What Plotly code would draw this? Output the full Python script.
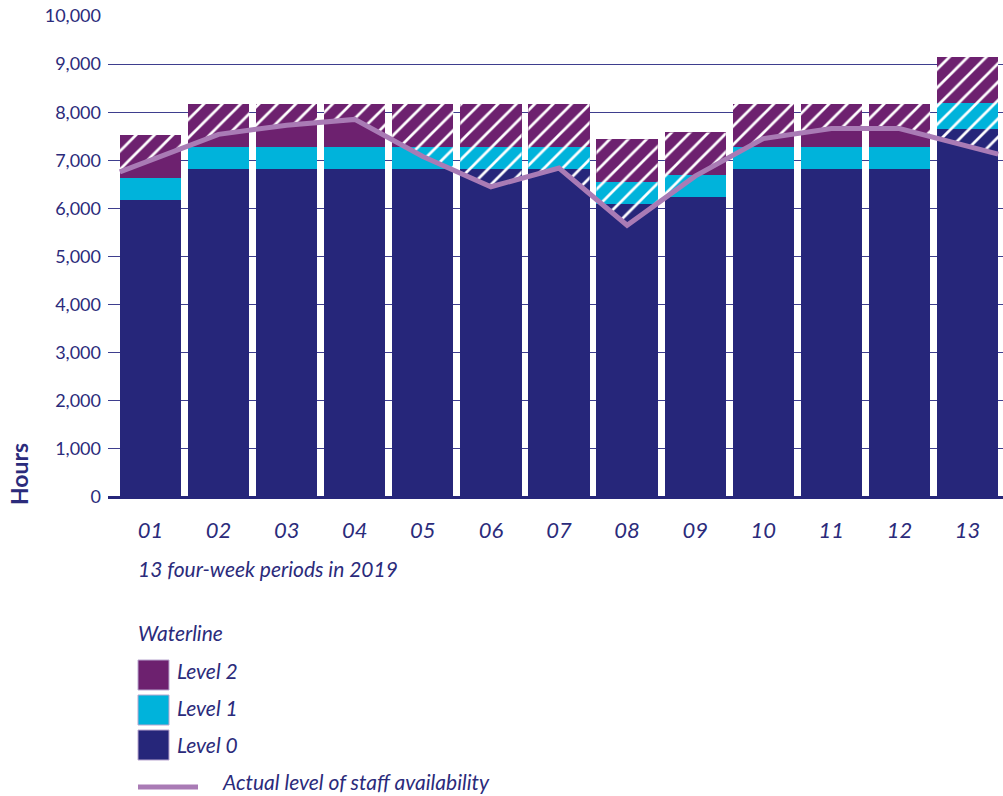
import numpy as np
import plotly.graph_objects as go

# Four-week periods of 2019
periods = ["01", "02", "03", "04", "05", "06", "07", "08", "09", "10", "11", "12", "13"]

# Waterline levels (hours, stacked)
level0 = [6175, 6820, 6820, 6820, 6820, 6820, 6820, 6090, 6240, 6820, 6820, 6820, 7650]
level1 = [465, 460, 460, 460, 460, 460, 460, 460, 455, 460, 460, 460, 535]
level2 = [885, 890, 890, 890, 890, 890, 890, 890, 885, 890, 890, 890, 970]

# Actual level of staff availability (hours)
availability = [6760, 7540, 7730, 7850, 7080, 6450, 6840, 5650, 6670, 7450, 7660, 7660, 7130]

y_ticks = [0, 1000, 2000, 3000, 4000, 5000, 6000, 7000, 8000, 9000, 10000]

NAVY = "#26267A"
CYAN = "#00B3DB"
PURPLE = "#6D216F"
LINE = "#A97BB5"
TEXT = "#2B2B7B"
GRID = "#3E3E8E"
FONT = "Lato"

W, H = 1003, 796
ML, MR, MT, MB = 108, 0, 16, 299
BAR_W = 0.9
X_RANGE = [-0.624, 12.521]

x = list(range(len(periods)))
# the availability line runs from the outer edge of the first bar to the outer edge of the last
line_x = [x[0] - BAR_W / 2] + x[1:-1] + [x[-1] + BAR_W / 2]


def line_at(xv):
    return float(np.interp(xv, line_x, availability))


def px_x(p):
    return (p - ML) / (W - ML - MR)


def px_y(p):
    return (H - MB - p) / (H - MT - MB)


fig = go.Figure()

for name, vals, col in [("Level 0", level0, NAVY), ("Level 1", level1, CYAN), ("Level 2", level2, PURPLE)]:
    fig.add_trace(go.Bar(
        x=x, y=vals, name=name, width=BAR_W,
        marker=dict(color=col, line=dict(width=0)),
        hoverinfo="skip", showlegend=False,
    ))

# hatched overlay: the part of each bar that lies above the availability line
hx, hy = [], []
for i in x:
    top = level0[i] + level1[i] + level2[i]
    xl, xr = i - BAR_W / 2, i + BAR_W / 2
    pts = [xl] + [lx for lx in line_x if xl < lx < xr] + [xr]
    lower = [min(line_at(p), top) for p in pts]
    hx += pts + pts[::-1] + [pts[0], None]
    hy += lower + [top] * len(pts) + [lower[0], None]

fig.add_trace(go.Scatter(
    x=hx, y=hy, mode="lines", fill="toself",
    fillcolor="rgba(0,0,0,0)",
    fillpattern=dict(shape="/", fgcolor="white", bgcolor="rgba(0,0,0,0)",
                     size=13, solidity=0.21, fillmode="replace"),
    line=dict(width=0, color="rgba(0,0,0,0)"),
    hoverinfo="skip", showlegend=False,
))

fig.add_trace(go.Scatter(
    x=line_x, y=availability, mode="lines",
    line=dict(color=LINE, width=5),
    hoverinfo="skip", showlegend=False,
))

fig.update_layout(
    width=W, height=H,
    margin=dict(l=ML, r=MR, t=MT, b=MB),
    barmode="stack", bargap=0,
    plot_bgcolor="white", paper_bgcolor="white",
    font=dict(family=FONT, color=TEXT),
    showlegend=False,
)

fig.update_xaxes(
    range=X_RANGE, tickmode="array", tickvals=x,
    ticktext=[f"<i>{p}</i>" for p in periods],
    tickfont=dict(family=FONT, size=22, color=TEXT),
    showgrid=False, zeroline=False, showline=False, ticks="",
    ticklabelstandoff=18,
)
fig.update_yaxes(
    range=[0, 10000], tickmode="array", tickvals=y_ticks, tickformat=",",
    tickfont=dict(family=FONT, size=18, color=TEXT),
    showgrid=True, gridcolor=GRID, gridwidth=1.2,
    zeroline=True, zerolinecolor=NAVY, zerolinewidth=3,
    showline=False, ticks="", ticklabelstandoff=6,
)

annotations = [
    dict(x=px_x(19), y=px_y(474), text="<b>Hours</b>", textangle=-90,
         font=dict(size=23), xanchor="center", yanchor="middle"),
    dict(x=px_x(136), y=px_y(568), text="<i>13 four-week periods in 2019</i>",
         font=dict(size=21), xanchor="left", yanchor="middle"),
    dict(x=px_x(136), y=px_y(632), text="<i>Waterline</i>",
         font=dict(size=21), xanchor="left", yanchor="middle"),
    dict(x=px_x(175), y=px_y(670), text="<i>Level 2</i>",
         font=dict(size=21), xanchor="left", yanchor="middle"),
    dict(x=px_x(175), y=px_y(707), text="<i>Level 1</i>",
         font=dict(size=21), xanchor="left", yanchor="middle"),
    dict(x=px_x(175), y=px_y(744), text="<i>Level 0</i>",
         font=dict(size=21), xanchor="left", yanchor="middle"),
    dict(x=px_x(220), y=px_y(781), text="<i>Actual level of staff availability</i>",
         font=dict(size=21), xanchor="left", yanchor="middle"),
]
for a in annotations:
    a.update(xref="paper", yref="paper", showarrow=False)
fig.update_layout(annotations=annotations)

shapes = []
for top_px, col in [(660, PURPLE), (695, CYAN), (730, NAVY)]:
    shapes.append(dict(
        type="rect", xref="paper", yref="paper",
        x0=px_x(138), x1=px_x(169), y0=px_y(top_px), y1=px_y(top_px + 30),
        fillcolor=col, line=dict(color="#B9A6CF", width=1),
    ))
shapes.append(dict(
    type="line", xref="paper", yref="paper",
    x0=px_x(138), x1=px_x(198), y0=px_y(787), y1=px_y(787),
    line=dict(color=LINE, width=5),
))
fig.update_layout(shapes=shapes)

fig.write_html("out.html")
